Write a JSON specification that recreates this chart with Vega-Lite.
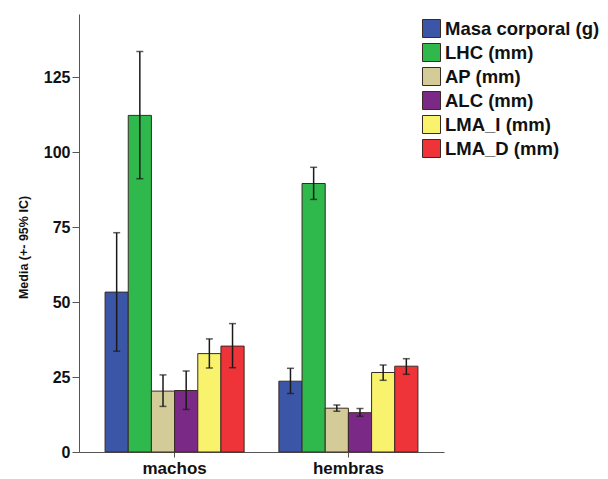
{
  "$schema": "https://vega.github.io/schema/vega-lite/v6.json",
  "width": 365,
  "height": 438,
  "autosize": {"type": "none"},
  "padding": {"left": 79, "top": 14, "right": 164, "bottom": 27},
  "background": "white",
  "config": {"view": {"stroke": null}, "font": "Liberation Sans"},
  "data": {
    "values": [
      {"sexo": "machos", "variable": "Masa corporal (g)", "media": 53.3, "lo": 33.6, "hi": 73.1},
      {"sexo": "machos", "variable": "LHC (mm)", "media": 112.2, "lo": 91.1, "hi": 133.5},
      {"sexo": "machos", "variable": "AP (mm)", "media": 20.3, "lo": 15.2, "hi": 25.7},
      {"sexo": "machos", "variable": "ALC (mm)", "media": 20.5, "lo": 14.2, "hi": 27.0},
      {"sexo": "machos", "variable": "LMA_I (mm)", "media": 32.8, "lo": 28.0, "hi": 37.7},
      {"sexo": "machos", "variable": "LMA_D (mm)", "media": 35.3, "lo": 28.1, "hi": 42.8},
      {"sexo": "hembras", "variable": "Masa corporal (g)", "media": 23.6, "lo": 19.5, "hi": 27.9},
      {"sexo": "hembras", "variable": "LHC (mm)", "media": 89.5, "lo": 84.2, "hi": 94.9},
      {"sexo": "hembras", "variable": "AP (mm)", "media": 14.6, "lo": 13.6, "hi": 15.7},
      {"sexo": "hembras", "variable": "ALC (mm)", "media": 13.1, "lo": 11.9, "hi": 14.5},
      {"sexo": "hembras", "variable": "LMA_I (mm)", "media": 26.5, "lo": 23.9, "hi": 29.0},
      {"sexo": "hembras", "variable": "LMA_D (mm)", "media": 28.6, "lo": 25.9, "hi": 31.1}
    ]
  },
  "encoding": {
    "x": {
      "field": "sexo", "type": "nominal", "sort": ["machos", "hembras"],
      "scale": {"paddingInner": 0.2, "paddingOuter": 0.15},
      "axis": {"title": null, "labelAngle": 0, "domainColor": "#555555", "tickColor": "#555555", "tickSize": 5, "labelFontSize": 17, "labelFontWeight": "bold", "labelColor": "#111111", "labelPadding": 3}
    },
    "xOffset": {
      "field": "variable", "type": "nominal",
      "sort": ["Masa corporal (g)", "LHC (mm)", "AP (mm)", "ALC (mm)", "LMA_I (mm)", "LMA_D (mm)"],
      "scale": {"paddingInner": 0, "paddingOuter": 0}
    }
  },
  "layer": [
    {
      "mark": {"type": "bar", "stroke": "#3a2a25", "strokeWidth": 1},
      "encoding": {
        "y": {
          "field": "media", "type": "quantitative",
          "scale": {"domain": [0, 146], "nice": false},
          "axis": {"title": "Media (+- 95% IC)", "values": [0, 25, 50, 75, 100, 125], "grid": false, "domainColor": "#555555", "tickColor": "#555555", "tickSize": 7, "labelFontSize": 16, "labelFontWeight": "bold", "labelColor": "#111111", "labelPadding": 2, "titleFontSize": 12.5, "titleFontWeight": "bold", "titleColor": "#111111", "titlePadding": 13, "titleY": 233}
        },
        "color": {
          "field": "variable", "type": "nominal",
          "sort": ["Masa corporal (g)", "LHC (mm)", "AP (mm)", "ALC (mm)", "LMA_I (mm)", "LMA_D (mm)"],
          "scale": {"range": ["#3b56a6", "#2fb84b", "#d4cc98", "#7a2a86", "#f8f26c", "#ee3339"]},
          "legend": {"orient": "none", "legendX": 343, "legendY": 5, "title": null, "symbolType": "square", "symbolSize": 324, "symbolStrokeColor": "#3a2a25", "symbolStrokeWidth": 1, "symbolOpacity": 1, "labelFontSize": 18.5, "labelFontWeight": "bold", "labelColor": "#111111", "rowPadding": 1, "labelOffset": 4}
        }
      }
    },
    {
      "mark": {"type": "rule", "color": "#1a1a1a", "strokeWidth": 1.5},
      "encoding": {
        "y": {"field": "lo", "type": "quantitative", "title": "Media (+- 95% IC)"},
        "y2": {"field": "hi"}
      }
    },
    {
      "mark": {"type": "tick", "color": "#1a1a1a", "thickness": 1.5, "size": 7},
      "encoding": {"y": {"field": "lo", "type": "quantitative", "title": "Media (+- 95% IC)"}}
    },
    {
      "mark": {"type": "tick", "color": "#1a1a1a", "thickness": 1.5, "size": 7},
      "encoding": {"y": {"field": "hi", "type": "quantitative", "title": "Media (+- 95% IC)"}}
    }
  ]
}
